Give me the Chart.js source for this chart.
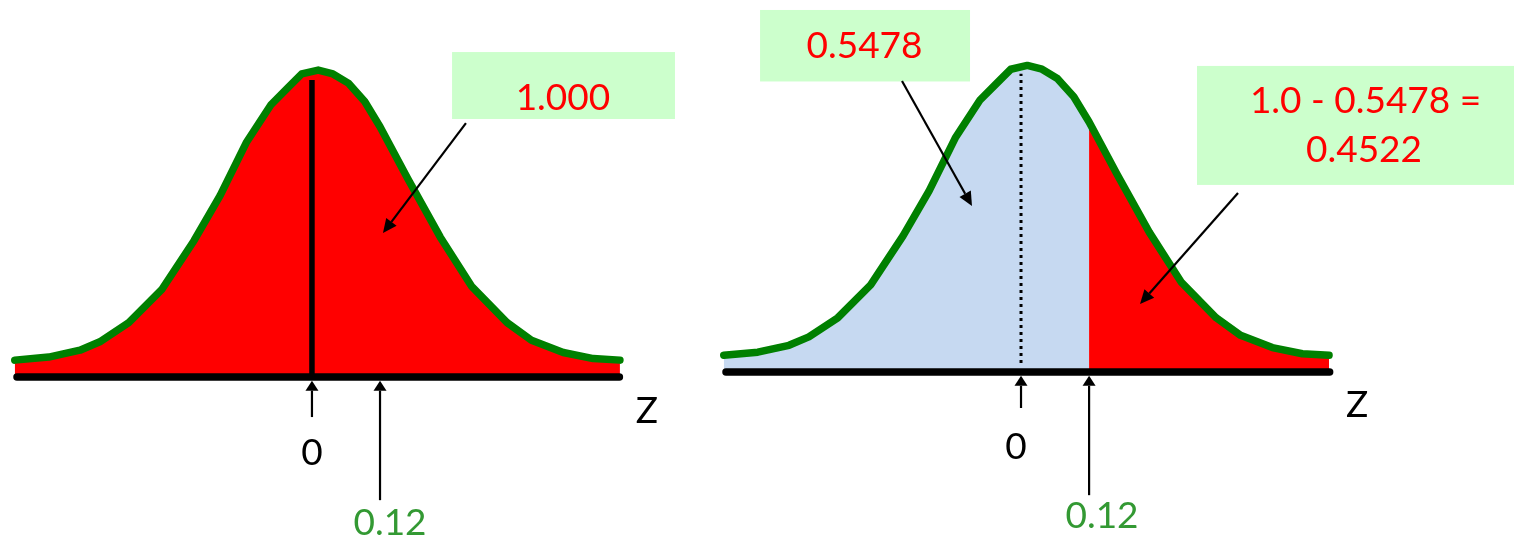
<!DOCTYPE html>
<html>
<head>
<meta charset="utf-8">
<script src="https://cdn.jsdelivr.net/npm/chart.js@4.4.1/dist/chart.umd.min.js"></script>
<style>
  html, body { margin: 0; padding: 0; background: #fff; }
  body { width: 1514px; height: 540px; position: relative; overflow: hidden; }
  canvas { position: absolute; top: 0; }
  #leftChart { left: 0; }
  #rightChart { left: 709px; }
</style>
</head>
<body>
<canvas id="leftChart" width="709" height="540"></canvas>
<canvas id="rightChart" width="805" height="540"></canvas>
<script>
// bell curve vertices (z, height)
const curveZ = [-0.524, -0.464, -0.409, -0.374, -0.323, -0.265, -0.208, -0.162, -0.116, -0.072, -0.041, -0.018,
  0.011, 0.037, 0.064, 0.093, 0.120, 0.169, 0.226, 0.282, 0.344, 0.387, 0.443, 0.496, 0.543];
const curveY = [0.022, 0.026, 0.035, 0.046, 0.071, 0.114, 0.178, 0.237, 0.306, 0.356, 0.379, 0.396,
  0.401, 0.396, 0.384, 0.360, 0.327, 0.259, 0.183, 0.118, 0.071, 0.048, 0.032, 0.024, 0.022];

const tickValues = [0, 0.12];
const tickLabels = ['0', '0.12'];
const axisTitle = 'Z';
const cutoff = 0.12;

const totalText = ['1.000'];
const belowText = ['0.5478'];
const aboveText = ['1.0 - 0.5478 =', '0.4522'];

const RED = '#ff0000';
const GREEN = '#008000';
const BLUE = '#c6d9f1';
const BOX = '#ccffcc';
const FONT = '37px Lato';

const points = curveZ.map((z, i) => ({ x: z, y: curveY[i] }));
const belowCut = points.filter(p => p.x <= cutoff);
const aboveCut = points.filter(p => p.x >= cutoff);

function curveLine() {
  return { data: points, borderColor: GREEN, borderWidth: 7.5, fill: false,
    borderCapStyle: 'round', borderJoinStyle: 'round' };
}
function axisLine(z0, z1) {
  return { data: [{ x: z0, y: 0 }, { x: z1, y: 0 }], borderColor: '#000', borderWidth: 7.5,
    borderCapStyle: 'round', fill: false };
}
function area(data, color) {
  return { data, fill: 'origin', backgroundColor: color, borderColor: 'transparent', borderWidth: 0 };
}

function arrow(ctx, x0, y0, x1, y1, len, half) {
  const a = Math.atan2(y1 - y0, x1 - x0);
  const bx = x1 - len * Math.cos(a), by = y1 - len * Math.sin(a);
  ctx.beginPath();
  ctx.moveTo(x0, y0);
  ctx.lineTo(bx, by);
  ctx.stroke();
  ctx.beginPath();
  ctx.moveTo(x1, y1);
  ctx.lineTo(bx + half * Math.sin(a), by - half * Math.cos(a));
  ctx.lineTo(bx - half * Math.sin(a), by + half * Math.cos(a));
  ctx.closePath();
  ctx.fill();
}

// boxes, pointers, axis arrows and labels on top of the chart
function notesPlugin(n) {
  return {
    id: 'notes',
    afterDraw(chart) {
      const { ctx, scales: { x, y } } = chart;
      const px = v => x.getPixelForValue(v);
      const py = v => y.getPixelForValue(v);
      ctx.save();
      ctx.font = FONT;
      ctx.textAlign = 'center';
      ctx.textBaseline = 'alphabetic';

      n.boxes.forEach(b => {
        ctx.fillStyle = BOX;
        ctx.fillRect(px(b.z0), py(b.y0), px(b.z1) - px(b.z0), py(b.y1) - py(b.y0));
        ctx.fillStyle = RED;
        b.lines.forEach((t, i) => ctx.fillText(t, px(b.tz[i]), py(b.ty[i])));
      });

      ctx.strokeStyle = '#000';
      ctx.fillStyle = '#000';
      ctx.lineWidth = 2.2;
      n.pointers.forEach(p => arrow(ctx, px(p.from[0]), py(p.from[1]), px(p.to[0]), py(p.to[1]), 14, 6.5));

      tickValues.forEach((v, i) => {
        arrow(ctx, px(v), py(n.tails[i]), px(v), py(-0.0048), 10, 6.5);
        ctx.fillStyle = i === 0 ? '#000' : '#339933';
        ctx.fillText(tickLabels[i], px(v + n.labelDz[i]), py(n.labelY[i]));
        ctx.fillStyle = '#000';
      });

      ctx.fillText(axisTitle, px(n.title[0]), py(n.title[1]));
      ctx.restore();
    }
  };
}

function makeChart(id, xMax, yMax, pad, datasets, notes) {
  return new Chart(document.getElementById(id), {
    type: 'line',
    data: { datasets },
    options: {
      responsive: false,
      animation: false,
      events: [],
      layout: { padding: pad },
      plugins: { legend: { display: false }, tooltip: { enabled: false } },
      scales: {
        x: { type: 'linear', min: -0.55, max: xMax, display: false },
        y: { type: 'linear', min: -0.2, max: yMax, display: false }
      },
      elements: { point: { radius: 0 }, line: { tension: 0 } }
    },
    plugins: [notesPlugin(notes)]
  });
}

function draw() {
  // whole area under the curve
  makeChart('leftChart', 0.70, 0.49, { top: 2, bottom: 10, left: 0, right: 0 }, [
    curveLine(),
    axisLine(-0.52, 0.542),
    { data: [{ x: 0, y: 0 }, { x: 0, y: 0.388 }], borderColor: '#000', borderWidth: 5.5, fill: false },
    area(points, RED)
  ], {
    boxes: [{ z0: 0.247, z1: 0.640, y0: 0.4246, y1: 0.3371, lines: totalText, tz: [0.4425], ty: [0.3489] }],
    pointers: [{ from: [0.2715, 0.3318], to: [0.1252, 0.1881] }],
    tails: [-0.0524, -0.161],
    labelDz: [0, 0.0176],
    labelY: [-0.1151, -0.2066],
    title: [0.5906, -0.0601]
  });

  // split at the cutoff
  makeChart('rightChart', 0.869, 0.48, { top: 5, bottom: 15, left: 0, right: 0 }, [
    curveLine(),
    axisLine(-0.52, 0.544),
    { data: [{ x: 0, y: 0.012 }, { x: 0, y: 0.39 }], borderColor: '#000', borderWidth: 3,
      borderDash: [3, 4], fill: false },
    area(aboveCut, RED),
    area(belowCut, BLUE)
  ], {
    boxes: [
      { z0: -0.460, z1: -0.0899, y0: 0.4735, y1: 0.3800, lines: belowText, tz: [-0.2759], ty: [0.4107] },
      { z0: 0.3102, z1: 0.90, y0: 0.4003, y1: 0.2447, lines: aboveText, tz: [0.6073, 0.6046], ty: [0.3388, 0.2748] }
    ],
    pointers: [
      { from: [-0.2098, 0.3807], to: [-0.0864, 0.2172] },
      { from: [0.3825, 0.2342], to: [0.2098, 0.0891] }
    ],
    tails: [-0.047, -0.161],
    labelDz: [-0.0088, 0.0228],
    labelY: [-0.1136, -0.2039],
    title: [0.5923, -0.0590]
  });
}

document.fonts.load(FONT).then(draw, draw);
</script>
</body>
</html>
